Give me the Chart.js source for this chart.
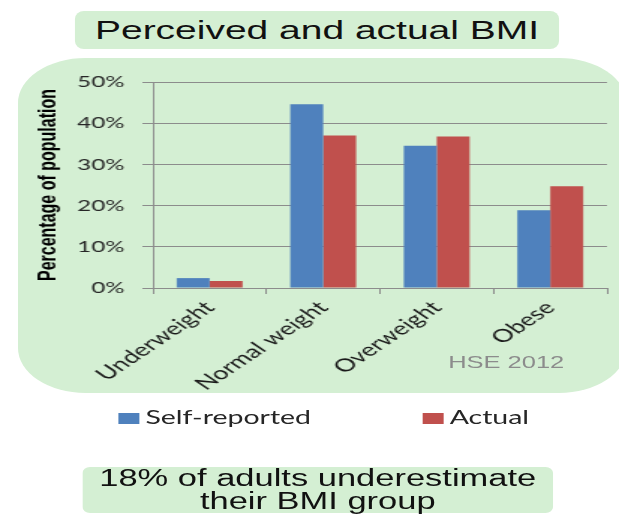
<!DOCTYPE html>
<html>
<head>
<meta charset="utf-8">
<script src="https://cdn.jsdelivr.net/npm/chart.js@4.4.0/dist/chart.umd.min.js"></script>
<style>
  html, body { margin: 0; padding: 0; background: #fff; overflow: hidden; width: 619px; height: 514px; }
  /* the reference is stretched sideways, so the whole slide is drawn narrow and widened */
  #stage { position: absolute; left: 0; top: 0; width: 413px; height: 514px; transform: scaleX(1.4988); transform-origin: 0 0; }
  .box { position: absolute; background: #d4efd3; }
  #titleBox { left: 50px; top: 11px; width: 323px; height: 38px; border-radius: 6px / 8px;
    font: 26px "Liberation Sans", Arial, sans-serif; color: #111; text-align: center; line-height: 38px; }
  #panel { left: 12px; top: 58px; width: 406px; height: 335px; border-radius: 45px; }
  #noteBox { left: 55px; top: 467px; width: 314px; height: 46px; border-radius: 5px / 6px;
    font: 23px/23px "Liberation Sans", Arial, sans-serif; color: #111; text-align: center; }
  #chart { position: absolute; left: 0; top: 0; }
  #source { position: absolute; left: 299px; top: 353px; font: 17px "Liberation Sans", Arial, sans-serif; color: #8c8c8c; }
  #legend { position: absolute; left: 0; top: 405px; width: 413px; height: 30px; font: 19px Lato, sans-serif; color: #262626; }
  .item { position: absolute; top: 0; white-space: nowrap; }
  .swatch { position: absolute; top: 8px; width: 14px; height: 11px; }
</style>
</head>
<body>
<div id="stage">
  <div class="box" id="titleBox">Perceived and actual BMI</div>
  <div class="box" id="panel"></div>
  <canvas id="chart" width="413" height="514"></canvas>
  <div id="source">HSE 2012</div>
  <div id="legend"></div>
  <div class="box" id="noteBox">18% of adults underestimate<br>their BMI group</div>
</div>
<script>
const categories = ['Underweight', 'Normal weight', 'Overweight', 'Obese'];
const seriesNames = ['Self-reported', 'Actual'];
const selfReported = [2.4, 44.6, 34.5, 18.9];
const actual = [1.7, 37.0, 36.8, 24.7];
const yTicks = [0, 10, 20, 30, 40, 50];

const gridGrey = '#8c8c8c';

const chart = new Chart(document.getElementById('chart').getContext('2d'), {
  type: 'bar',
  data: {
    labels: categories,
    datasets: [{
      label: seriesNames[0],
      data: selfReported,
      backgroundColor: '#4f81bd',
      categoryPercentage: 0.58,
      barPercentage: 1.0
    }, {
      label: seriesNames[1],
      data: actual,
      backgroundColor: '#c0504d',
      categoryPercentage: 0.58,
      barPercentage: 1.0
    }]
  },
  options: {
    responsive: false,
    animation: false,
    devicePixelRatio: 1,
    layout: { padding: { left: 18, right: 8, top: 82, bottom: 96 } },
    plugins: {
      legend: { display: false },
      tooltip: { enabled: false }
    },
    scales: {
      x: {
        offset: true,
        grid: { drawOnChartArea: false, drawTicks: true, tickLength: 6, offset: true, color: gridGrey },
        border: { color: gridGrey },
        ticks: {
          autoSkip: false,
          minRotation: 45,
          maxRotation: 45,
          padding: 3,
          color: '#1a1a1a',
          font: { family: 'Lato', size: 18 }
        },
        // tall enough that the rotated labels are not clipped
        afterFit: scale => { scale.height = 130; }
      },
      y: {
        min: 0,
        max: 50,
        afterBuildTicks: scale => { scale.ticks = yTicks.map(v => ({ value: v })); },
        ticks: {
          callback: v => v + '%',
          padding: 12,
          color: '#262626',
          font: { family: 'Lato', size: 16 }
        },
        grid: { color: gridGrey, tickLength: 7 },
        border: { color: gridGrey },
        title: {
          display: true,
          text: 'Percentage of population',
          color: '#000',
          font: { family: 'Liberation Sans', size: 16, weight: 'bold' },
          padding: { top: 5, bottom: 0 }
        },
        afterFit: scale => { scale.width = 84; }
      }
    }
  }
});

// legend spread wide like the slide
const legendPos = [79, 282];
const legend = document.getElementById('legend');
chart.data.datasets.forEach((ds, i) => {
  const item = document.createElement('div');
  item.className = 'item';
  item.style.left = legendPos[i] + 'px';
  item.innerHTML = '<span class="swatch" style="left:0;background:' + ds.backgroundColor + '"></span>' +
    '<span style="margin-left:18px">' + ds.label + '</span>';
  legend.appendChild(item);
});
</script>
</body>
</html>
